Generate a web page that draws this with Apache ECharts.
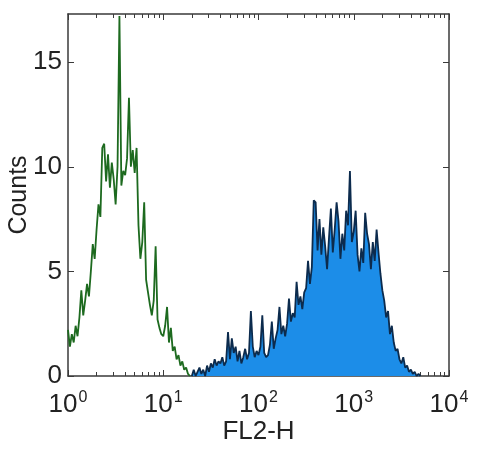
<!DOCTYPE html>
<html>
<head>
<meta charset="utf-8">
<script src="https://cdn.jsdelivr.net/npm/echarts@6/dist/echarts.min.js"></script>
<style>
  html, body { margin: 0; padding: 0; background: #fff; }
  #main { width: 480px; height: 454px; }
</style>
</head>
<body>
<div id="main"></div>
<script>
// histogram channels, x in log10(FL2-H) units
const greenStart = 0;
const greenStep = 0.02;
const greenCounts = [
  2.2, 1.4, 2.0, 1.6, 2.4, 1.9, 2.8, 4.1, 2.9, 3.6,
  4.4, 3.8, 5.0, 6.3, 5.6, 7.0, 8.2, 7.6, 10.9, 11.1,
  9.3, 10.6, 9.0, 10.2, 9.4, 8.2, 10.0, 17.2, 9.1, 9.8,
  9.6, 10.4, 13.3, 10.0, 10.8, 9.7, 10.9, 7.2, 5.6, 6.4,
  8.3, 4.6, 4.0, 3.4, 2.9, 3.6, 6.2, 2.7, 2.3, 2.0,
  1.9, 2.4, 3.3, 1.6, 2.3, 1.2, 1.4, 0.8, 1.0, 0.5,
  0.7, 0.3, 0.4, 0.1, 0
];

const blueStart = 1.3;
const blueStep = 0.02;
const blueCounts = [
  0, 0.3, 0, 0.2, 0.4, 0.1, 0.3, 0, 0.5, 0.2,
  0.6, 0.4, 0.8, 0.5, 0.7, 0.6, 0.9, 0.5, 0.7, 2.1,
  0.8, 1.8, 1.1, 1.4, 0.7, 1.2, 0.6, 0.9, 1.3, 0.8,
  1.1, 3.1, 1.4, 0.9, 1.2, 1.0, 1.4, 2.9, 1.1, 0.9,
  1.0, 1.5, 2.6, 1.3, 1.8, 2.2, 3.3, 2.0, 2.4, 1.9,
  2.5, 3.7, 2.6, 3.0, 2.8, 4.5, 3.4, 3.8, 3.2, 4.0,
  4.2, 5.5, 4.4, 5.2, 8.4, 8.3, 6.0, 7.5, 5.8, 7.1,
  6.2, 5.1, 6.6, 8.0, 5.9, 7.0, 8.3, 7.4, 5.6, 6.8,
  6.0, 7.9, 7.2, 9.8, 6.4, 6.9, 7.9, 5.8, 5.0, 6.1,
  5.4, 7.8, 6.8, 6.3, 5.1, 6.4, 5.5, 7.0, 5.9, 4.9,
  4.1, 3.6, 2.8, 3.1, 2.0, 2.4, 1.6, 1.2, 1.3, 0.8,
  0.6, 0.9, 0.4, 0.5, 0.2, 0.3, 0.1, 0.2, 0, 0.1, 0
];

const decadeTicks = [0, 1, 2, 3, 4];
const yTicks = [0, 5, 10, 15];

// minor log ticks 2..9 in every decade
const minorTicks = [];
for (let d = 0; d < 4; d++) {
  for (let k = 2; k <= 9; k++) minorTicks.push(d + Math.log10(k));
}

const toPairs = (start, step, arr) => arr.map((v, i) => [+(start + i * step).toFixed(3), v]);

const font = "'Liberation Sans', Arial, Helvetica, sans-serif";
const axisColor = '#3a3a3a';

const chart = echarts.init(document.getElementById('main'));

const baseX = {
  type: 'value', min: 0, max: 4, interval: 1,
  splitLine: { show: false }
};

const option = {
  animation: false,
  backgroundColor: '#fff',
  grid: { left: 68, top: 14, right: 31, bottom: 78, outerBoundsMode: 'none', containLabel: false },
  xAxis: [
    Object.assign({}, baseX, {
      position: 'bottom',
      name: 'FL2-H',
      nameLocation: 'middle',
      nameGap: 43,
      nameMoveOverlap: false,
      nameTextStyle: { fontFamily: font, fontSize: 26, color: '#222' },
      axisLine: { show: true, onZero: false, lineStyle: { color: axisColor, width: 1.5 } },
      axisTick: { show: true, inside: true, length: 6, customValues: decadeTicks, lineStyle: { color: axisColor } },
      axisLabel: {
        customValues: decadeTicks,
        margin: 14,
        formatter: v => '{b|10}{s|' + v + '}',
        rich: {
          b: { fontFamily: font, fontSize: 26, color: '#222', lineHeight: 30 },
          s: { fontFamily: font, fontSize: 16, color: '#222', lineHeight: 30, verticalAlign: 'top', padding: [0, 0, 16, 1] }
        }
      }
    }),
    Object.assign({}, baseX, {
      position: 'bottom',
      axisLine: { show: false, onZero: false },
      axisTick: { show: true, inside: true, length: 4, customValues: minorTicks, lineStyle: { color: axisColor } },
      axisLabel: { show: false }
    }),
    Object.assign({}, baseX, {
      position: 'top',
      axisLine: { show: true, onZero: false, lineStyle: { color: axisColor, width: 1.5 } },
      axisTick: { show: true, inside: true, length: 6, customValues: decadeTicks, lineStyle: { color: axisColor } },
      axisLabel: { show: false }
    }),
    Object.assign({}, baseX, {
      position: 'top',
      axisLine: { show: false, onZero: false },
      axisTick: { show: true, inside: true, length: 4, customValues: minorTicks, lineStyle: { color: axisColor } },
      axisLabel: { show: false }
    })
  ],
  yAxis: [
    {
      type: 'value', min: 0, max: 17.3, interval: 5,
      position: 'left',
      name: 'Counts',
      nameLocation: 'middle',
      nameGap: 36,
      nameMoveOverlap: false,
      nameTextStyle: { fontFamily: font, fontSize: 25, color: '#222' },
      splitLine: { show: false },
      axisLine: { show: true, onZero: false, lineStyle: { color: axisColor, width: 1.5 } },
      axisTick: { show: true, inside: true, length: 6, customValues: yTicks, lineStyle: { color: axisColor } },
      axisLabel: { customValues: yTicks, margin: 6, fontFamily: font, fontSize: 26, color: '#222' }
    },
    {
      type: 'value', min: 0, max: 17.3, interval: 5,
      position: 'right',
      splitLine: { show: false },
      axisLine: { show: true, onZero: false, lineStyle: { color: axisColor, width: 1.5 } },
      axisTick: { show: true, inside: true, length: 6, customValues: yTicks, lineStyle: { color: axisColor } },
      axisLabel: { show: false }
    }
  ],
  series: [
    {
      name: 'stained',
      type: 'line',
      xAxisIndex: 0,
      yAxisIndex: 0,
      data: toPairs(blueStart, blueStep, blueCounts),
      showSymbol: false,
      lineStyle: { color: '#0c2b4d', width: 1.8 },
      areaStyle: { color: '#1c8de8', opacity: 1 },
      z: 2
    },
    {
      name: 'control',
      type: 'line',
      xAxisIndex: 0,
      yAxisIndex: 0,
      data: toPairs(greenStart, greenStep, greenCounts),
      showSymbol: false,
      lineStyle: { color: '#1d6a1f', width: 1.8 },
      z: 3
    }
  ]
};

chart.setOption(option);
</script>
</body>
</html>
